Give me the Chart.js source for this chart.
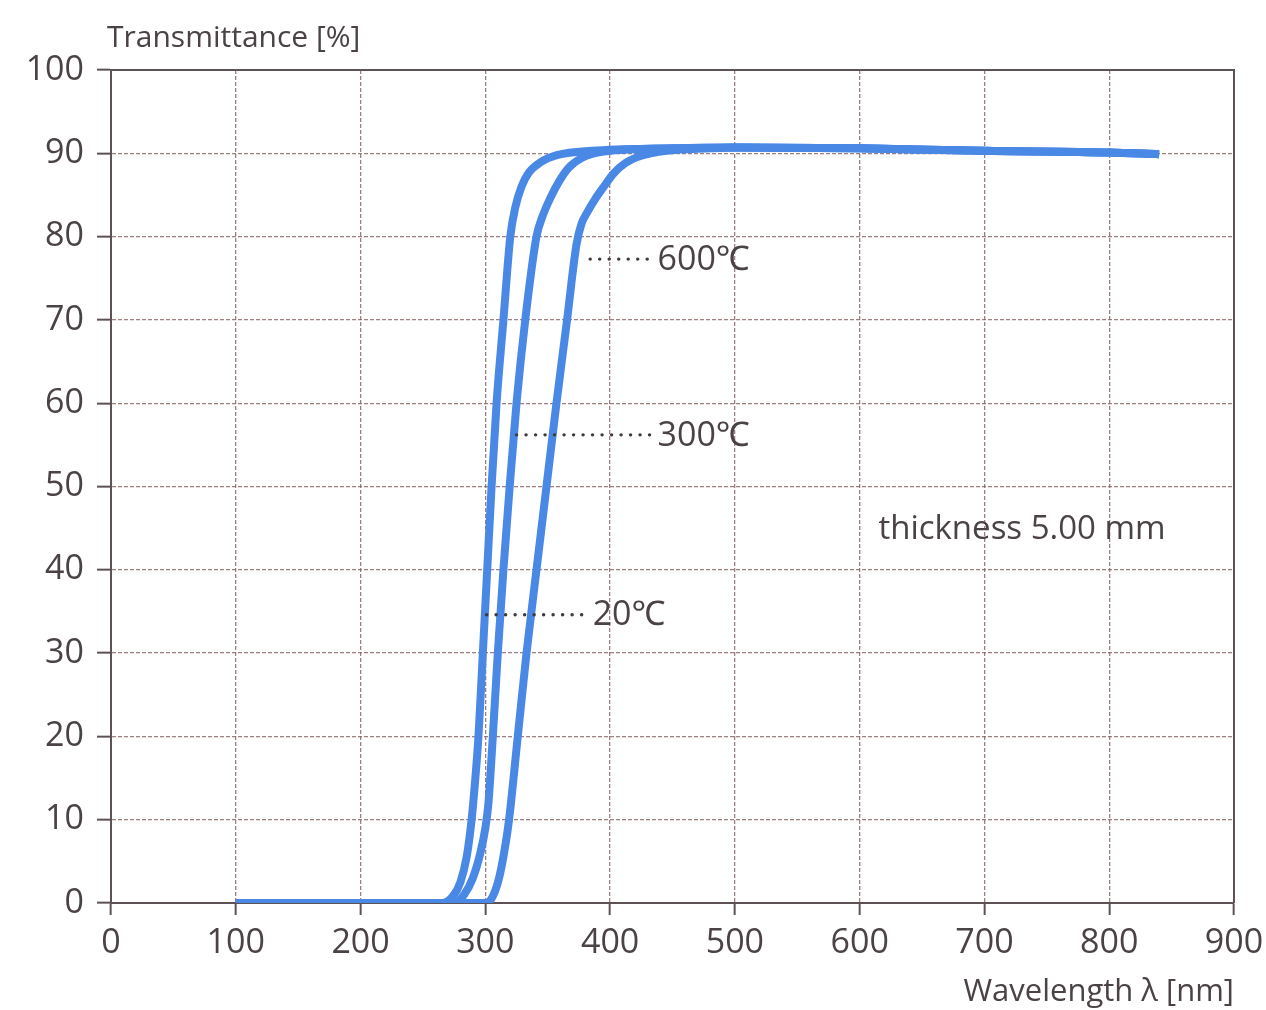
<!DOCTYPE html>
<html lang="en">
<head>
    <meta charset="UTF-8">
    <title>Transmittance</title>
    <style>
        html, body { margin: 0; padding: 0; background: #fff; }
        #wrap { width: 1266px; height: 1010px; }
    </style>
</head>
<body>
    <div id="wrap">
        <canvas id="transChart" width="1266" height="1010"></canvas>
    </div>
    <script src="https://cdn.jsdelivr.net/npm/chart.js"></script>
    <script>
// wavelength (nm) / transmittance (%) for each temperature
const wl20 = [100, 266, 274, 280, 285, 289, 292, 294.5, 298, 301.5, 305, 309, 314.5, 320, 324, 329, 335, 344, 358, 385, 450, 500, 600, 700, 800, 840];
const t20  = [0,   0,   0.8, 2.5, 5.5, 10,  15,  20,    30,  40,    50,  60,  70,    80,  83.5, 86, 87.7, 88.9, 89.8, 90.3, 90.6, 90.7, 90.6, 90.3, 90.1, 89.9];

const wl300 = [100, 275, 283, 290, 296, 300, 302.5, 306, 310, 314.5, 319.5, 325, 332, 341, 346, 352, 359, 367, 378, 395, 450, 500, 600, 700, 800, 840];
const t300  = [0,   0,   1,   3,   6,   9,   12,    20,  30,  40,    50,    60,  70,  80,  82.5, 84.6, 86.6, 88.3, 89.5, 90.2, 90.6, 90.7, 90.6, 90.3, 90.1, 89.9];

const wl600 = [100, 301, 306, 311, 315, 319, 326, 333, 341, 349, 357, 365.5, 373, 377, 382, 388, 395, 403, 412, 425, 445, 480, 500, 600, 700, 800, 840];
const t600  = [0,   0,   0.8, 3,   6,   10,  20,  30,  40,  50,  60,  70,    79,  81.5, 83, 84.5, 86, 87.6, 88.8, 89.7, 90.3, 90.6, 90.7, 90.6, 90.3, 90.1, 89.9];

const xTicks = [0, 100, 200, 300, 400, 500, 600, 700, 800, 900];
const yTicks = [0, 10, 20, 30, 40, 50, 60, 70, 80, 90, 100];

// curve labels: text, where the dotted leader starts / ends (nm), level (%)
const labelText  = ['600℃', '300℃', '20℃'];
const leaderFrom = [384, 325, 301];
const leaderTo   = [438, 438, 386];
const leaderY    = [77.3, 56.2, 34.6];

const noteText = 'thickness 5.00 mm';

const txt = '#4a4244';
const axisCol = '#5e5154';
const gridCol = 'rgba(140, 105, 105, 0.85)';
const blue = '#4a88e6';
const font = '"Open Sans", "Noto Sans", sans-serif';

function pts(xs, ys) {
    return xs.map((x, i) => ({ x: x, y: ys[i] }));
}

function series(data) {
    return {
        data: data,
        borderColor: blue,
        borderWidth: 8,
        pointRadius: 0,
        fill: false,
        cubicInterpolationMode: 'monotone',
        borderCapStyle: 'butt',
        borderJoinStyle: 'round'
    };
}

const frame = {
    id: 'frame',
    beforeDatasetsDraw(chart) {
        const { ctx, chartArea: a } = chart;
        ctx.save();
        ctx.strokeStyle = axisCol;
        ctx.lineWidth = 2;
        ctx.beginPath();
        ctx.moveTo(a.left, a.top);
        ctx.lineTo(a.right, a.top);
        ctx.lineTo(a.right, a.bottom);
        ctx.stroke();
        ctx.restore();
    },
    afterDraw(chart) {
        const { ctx, chartArea: a, scales: { x, y } } = chart;
        ctx.save();
        ctx.fillStyle = txt;
        ctx.textBaseline = 'middle';

        // axis titles
        ctx.font = '30px ' + font;
        ctx.textAlign = 'left';
        ctx.fillText('Transmittance [%]', a.left - 4, a.top - 32);
        ctx.font = '31px ' + font;
        ctx.textAlign = 'right';
        ctx.fillText('Wavelength λ [nm]', a.right, a.bottom + 89);

        // dotted leaders + temperature labels
        ctx.strokeStyle = '#3f3a3c';
        ctx.lineWidth = 3.4;
        ctx.lineCap = 'round';
        ctx.setLineDash([0.1, 9.4]);
        ctx.font = '34px ' + font;
        ctx.textAlign = 'left';
        for (let i = 0; i < labelText.length; i++) {
            const py = y.getPixelForValue(leaderY[i]);
            const x0 = x.getPixelForValue(leaderFrom[i]);
            const x1 = x.getPixelForValue(leaderTo[i]);
            ctx.beginPath();
            ctx.moveTo(x0, py);
            ctx.lineTo(x1 - 5, py);
            ctx.stroke();
            ctx.fillText(labelText[i], x1, py + 1);
        }
        ctx.setLineDash([]);
        ctx.font = '33px ' + font;
        ctx.fillText(noteText, x.getPixelForValue(615), y.getPixelForValue(44.8));
        ctx.restore();
    }
};

new Chart(document.getElementById('transChart'), {
    type: 'line',
    data: {
        datasets: [series(pts(wl20, t20)), series(pts(wl300, t300)), series(pts(wl600, t600))]
    },
    options: {
        responsive: false,
        animation: false,
        events: [],
        layout: { padding: { top: 70, right: 32, left: 0, bottom: 0 } },
        plugins: { legend: { display: false }, tooltip: { enabled: false } },
        scales: {
            x: {
                type: 'linear',
                min: 0,
                max: 900,
                afterBuildTicks: s => { s.ticks = xTicks.map(v => ({ value: v })); },
                afterFit: s => {
                    s.height = 107;
                    // labels may hang past the ends; the layout padding covers them
                    s.paddingLeft = 0;
                    s.paddingRight = 0;
                },
                ticks: { color: txt, font: { family: font, size: 34 }, padding: 8, maxRotation: 0 },
                grid: { color: gridCol, lineWidth: 1.3, tickColor: axisCol, tickLength: 12, tickWidth: 2 },
                border: { color: axisCol, width: 2, dash: [4, 2] }
            },
            y: {
                min: 0,
                max: 100,
                afterBuildTicks: s => { s.ticks = yTicks.map(v => ({ value: v })); },
                afterFit: s => { s.width = 111; },
                ticks: { color: txt, font: { family: font, size: 34 }, padding: 13 },
                grid: { color: gridCol, lineWidth: 1.3, tickColor: axisCol, tickLength: 14, tickWidth: 2 },
                border: { color: axisCol, width: 2, dash: [4, 2] }
            }
        }
    },
    plugins: [frame]
});
    </script>
</body>
</html>
